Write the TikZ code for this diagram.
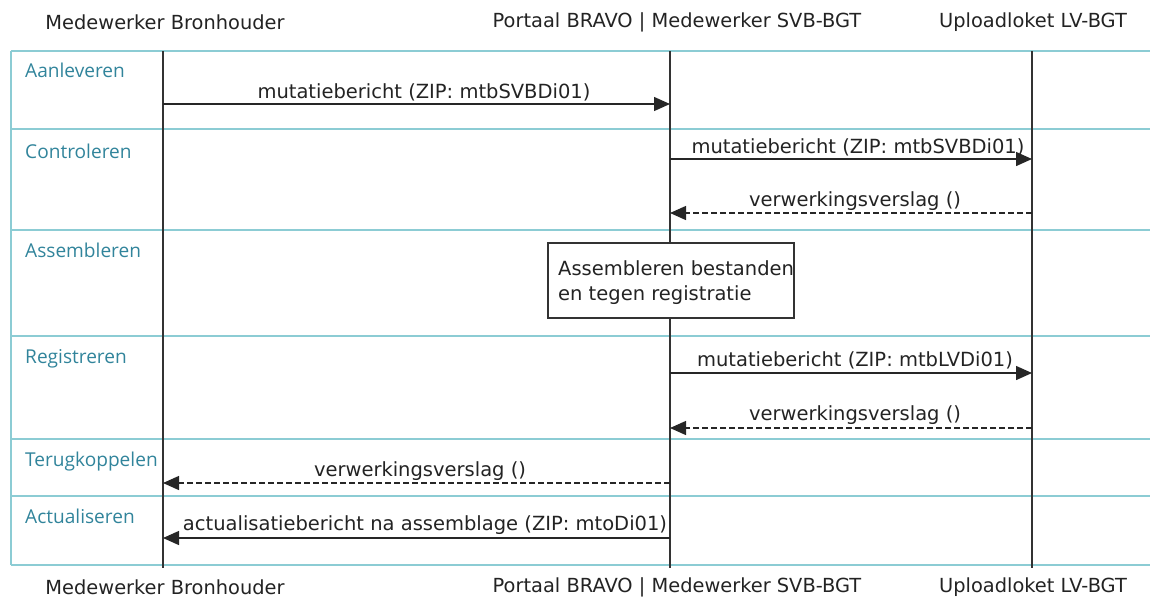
\documentclass[tikz,border=0pt]{standalone}
\usepackage{fontspec}
\setmainfont{DejaVu Sans}
\newfontfamily\lanefont{Open Sans}
\usetikzlibrary{arrows.meta}
\definecolor{framec}{RGB}{140,204,212}
\definecolor{lanec}{RGB}{49,132,155}
\definecolor{textc}{RGB}{35,35,35}
\tikzset{
  hdr/.style={font=\fontsize{19.4}{21}\selectfont, text=textc, inner sep=0pt},
  lanelbl/.style={font=\lanefont\fontsize{19.1}{21}\selectfont, text=lanec, anchor=base west, inner sep=0pt},
  sep/.style={draw=framec, line width=1.8pt},
  lifeline/.style={draw=black!80, line width=1.4pt},
  msg/.style={draw=black!85, line width=1.4pt, -{Triangle[length=16pt,width=14pt]}},
  reply/.style={msg, dash pattern=on 6pt off 3pt},
  mlbl/.style={font=\fontsize{19.5}{21}\selectfont, text=textc, inner sep=0pt, anchor=base},
  note/.style={draw=black!80, line width=1.2pt, fill=white, minimum width=246pt, minimum height=75pt, inner sep=0pt}
}
\begin{document}
\begin{tikzpicture}[x=1pt,y=-1pt]
\useasboundingbox (0,0) rectangle (1150,598);
% lane frame
\foreach \yy in {51,129,230,336,439,496,565} {\draw[sep] (11,\yy) -- (1150,\yy);}
\draw[sep] (11,51) -- (11,565);
% lane labels
\node[lanelbl] (l1) at (25,77) {Aanleveren};
\node[lanelbl] (l2) at (25,158) {Controleren};
\node[lanelbl] (l3) at (25,257) {Assembleren};
\node[lanelbl] (l4) at (25,363) {Registreren};
\node[lanelbl] (l5) at (25,466) {Terugkoppelen};
\node[lanelbl] (l6) at (25,523) {Actualiseren};
% headers
\node[hdr] (h1) at (165,22) {Medewerker Bronhouder};
\node[hdr] (h2) at (677,22) {Portaal BRAVO | Medewerker SVB-BGT};
\node[hdr] (h3) at (1033,22) {Uploadloket LV-BGT};
\node[hdr] (f1) at (165,587) {Medewerker Bronhouder};
\node[hdr] (f2) at (677,587) {Portaal BRAVO | Medewerker SVB-BGT};
\node[hdr] (f3) at (1033,587) {Uploadloket LV-BGT};
% lifelines
\coordinate (aT) at (163,51); \coordinate (aB) at (163,568);
\coordinate (bT) at (670,51); \coordinate (bB) at (670,568);
\coordinate (cT) at (1032,51); \coordinate (cB) at (1032,568);
\draw[lifeline] (aT) -- (aB);
\draw[lifeline] (bT) -- (bB);
\draw[lifeline] (cT) -- (cB);
% messages
\coordinate (m1a) at (163,104); \coordinate (m1b) at (670,104);
\draw[msg] (m1a) -- (m1b);
\node[mlbl] (t1) at (424,98) {mutatiebericht (ZIP: mtbSVBDi01)};
\coordinate (m2a) at (670,159); \coordinate (m2b) at (1032,159);
\draw[msg] (m2a) -- (m2b);
\node[mlbl] (t2) at (858,153) {mutatiebericht (ZIP: mtbSVBDi01)};
\coordinate (m3a) at (1032,213); \coordinate (m3b) at (670,213);
\draw[reply] (m3a) -- (m3b);
\node[mlbl] (t3) at (855,206) {verwerkingsverslag ()};
% note
\node[note] (box) at (671,280.5) {};
\node[mlbl, anchor=base west] (bt1) at (558,275) {Assembleren bestanden};
\node[mlbl, anchor=base west] (bt2) at (558,300) {en tegen registratie};
\coordinate (m4a) at (670,373); \coordinate (m4b) at (1032,373);
\draw[msg] (m4a) -- (m4b);
\node[mlbl] (t4) at (855,366) {mutatiebericht (ZIP: mtbLVDi01)};
\coordinate (m5a) at (1032,428); \coordinate (m5b) at (670,428);
\draw[reply] (m5a) -- (m5b);
\node[mlbl] (t5) at (855,420) {verwerkingsverslag ()};
\coordinate (m6a) at (670,483); \coordinate (m6b) at (163,483);
\draw[reply] (m6a) -- (m6b);
\node[mlbl] (t6) at (420,476) {verwerkingsverslag ()};
\coordinate (m7a) at (670,538); \coordinate (m7b) at (163,538);
\draw[msg] (m7a) -- (m7b);
\node[mlbl] (t7) at (425,530) {actualisatiebericht na assemblage (ZIP: mtoDi01)};
\end{tikzpicture}
\end{document}
